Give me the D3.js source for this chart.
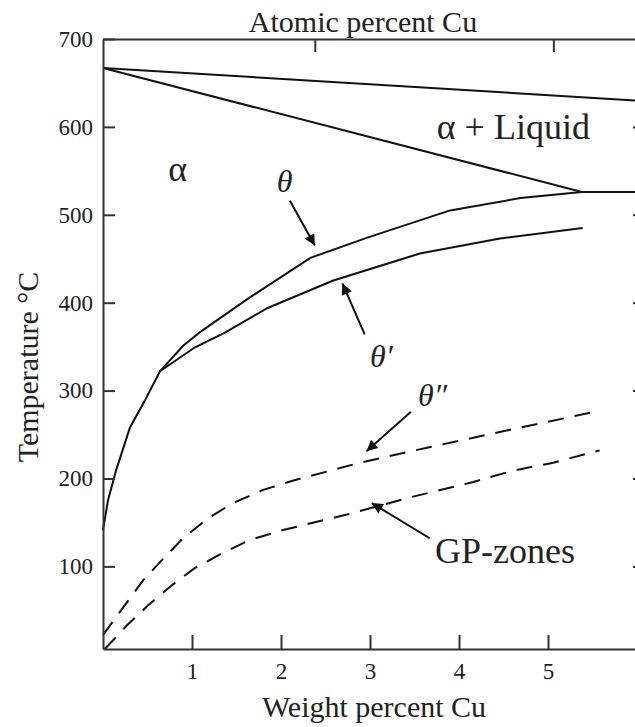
<!DOCTYPE html>
<html>
<head>
<meta charset="utf-8">
<script src="https://cdn.jsdelivr.net/npm/d3@7"></script>
<style>
  body { margin: 0; background: #fff; }
  text { font-family: "Liberation Serif", "Times New Roman", serif; fill: #222; }
</style>
</head>
<body>
<svg id="chart" width="635" height="727"></svg>
<script>
// ---------------- DATA ----------------
const xTicks = [1, 2, 3, 4, 5];
const yTicks = [100, 200, 300, 400, 500, 600, 700];
const atomicTicksWt = [2.38, 5.06]; // 1 and 2 at.% Cu, placed on the wt.% scale

const liquidusWt = [0, 6];
const liquidusT = [667, 630];

const solidusWt = [0, 5.38, 6];
const solidusT = [667, 526, 526];

const thetaWt = [0, 0.056, 0.146, 0.303, 0.472, 0.64, 0.9, 1.11, 1.65, 2.33, 2.97, 3.9, 4.69, 5.38];
const thetaT = [141, 175, 209, 258, 289, 322, 351, 368, 406, 451, 474, 505, 519, 526];

const thetaPrimeWt = [0.64, 1.03, 1.37, 1.85, 2.58, 3.56, 4.46, 5.39];
const thetaPrimeT = [322, 349, 366, 394, 425, 456, 473, 485];

const theta2Wt = [0, 0.225, 0.45, 0.67, 0.9, 1.17, 1.46, 1.8, 2.15, 2.89, 3.64, 4.69, 5.58];
const theta2T = [22, 53, 84, 108, 132, 154, 172, 187, 198, 218, 235, 258, 277];

const gpWt = [0.02, 0.27, 0.51, 0.78, 1.03, 1.34, 1.65, 2.01, 2.74, 3.47, 4.16, 4.61, 5.06, 5.58];
const gpT = [6, 33, 56, 79, 98, 115, 130, 141, 159, 179, 196, 209, 218, 232];

// annotation labels: [text, wt%, T, anchor, size, italic]
const labels = [
  ["α", 0.84, 539, "middle", 36, false],
  ["α + Liquid", 3.75, 586, "start", 36, false],
  ["θ", 2.04, 526, "middle", 32, true],
  ["θ′", 3.0, 327, "start", 32, true],
  ["θ″", 3.54, 282, "start", 32, true],
  ["GP-zones", 3.73, 104, "start", 36, false]
];

// arrows: [tailWt, tailT, tipWt, tipT]
const arrows = [
  [2.10, 516, 2.38, 465],
  [2.94, 364, 2.69, 422],
  [3.46, 276, 2.96, 231],
  [3.67, 132, 3.02, 172]
];

// ---------------- SCALES ----------------
const svg = d3.select("#chart");
const mLeft = 103, mRight = 637, mTop = 39, mBottom = 649;

const x = d3.scaleLinear().domain([0, 6]).range([mLeft, mRight]);
const y = d3.scaleLinear().domain([6, 700]).range([mBottom, mTop]);

// ---------------- CURVES ----------------
const line = d3.line().x(d => x(d[0])).y(d => y(d[1]));
const zip = (a, b) => a.map((v, i) => [v, b[i]]);

const curves = [
  [liquidusWt, liquidusT, null],
  [solidusWt, solidusT, null],
  [thetaWt, thetaT, null],
  [thetaPrimeWt, thetaPrimeT, null],
  [theta2Wt, theta2T, "16,11"],
  [gpWt, gpT, "16,11"]
];

curves.forEach(c => {
  svg.append("path")
    .attr("d", line(zip(c[0], c[1])))
    .attr("fill", "none")
    .attr("stroke", "#111")
    .attr("stroke-width", 2)
    .attr("stroke-dasharray", c[2]);
});

// ---------------- AXES ----------------
function styleAxis(g) {
  g.attr("font-family", "Liberation Serif").attr("font-size", 23);
  g.selectAll("path, line").attr("stroke", "#333").attr("stroke-width", 2);
  g.selectAll("text").attr("fill", "#222");
}

svg.append("g")
  .attr("transform", `translate(${mLeft},0)`)
  .call(d3.axisLeft(y).tickValues(yTicks).tickFormat(d3.format("d")).tickSize(-12).tickPadding(10).tickSizeOuter(0))
  .call(styleAxis);

svg.append("g")
  .attr("transform", `translate(0,${mBottom})`)
  .call(d3.axisBottom(x).tickValues(xTicks).tickFormat(d3.format("d")).tickSize(-14).tickPadding(14).tickSizeOuter(0))
  .call(styleAxis);

svg.append("g")
  .attr("transform", `translate(0,${mTop})`)
  .call(d3.axisTop(x).tickValues(atomicTicksWt).tickSize(-13).tickFormat("").tickSizeOuter(0))
  .call(styleAxis);

svg.append("g")
  .attr("transform", `translate(${mRight},0)`)
  .call(d3.axisRight(y).tickValues(yTicks.slice(0, 6)).tickSize(-4).tickFormat("").tickSizeOuter(0))
  .call(styleAxis);

// ---------------- AXIS TITLES ----------------
svg.append("text")
  .attr("x", 363).attr("y", 32)
  .attr("text-anchor", "middle")
  .style("font-size", "30px")
  .text("Atomic percent Cu");

svg.append("text")
  .attr("x", 374).attr("y", 717)
  .attr("text-anchor", "middle")
  .style("font-size", "30px")
  .text("Weight percent Cu");

svg.append("text")
  .attr("transform", "translate(38,367) rotate(-90)")
  .attr("text-anchor", "middle")
  .style("font-size", "30px")
  .text("Temperature °C");

// ---------------- LABELS ----------------
labels.forEach(l => {
  svg.append("text")
    .attr("x", x(l[1])).attr("y", y(l[2]))
    .attr("text-anchor", l[3])
    .style("font-size", l[4] + "px")
    .style("font-style", l[5] ? "italic" : "normal")
    .text(l[0]);
});

// ---------------- ARROWS ----------------
svg.append("defs").append("marker")
  .attr("id", "head")
  .attr("viewBox", "0 0 10 10")
  .attr("refX", 10).attr("refY", 5)
  .attr("markerWidth", 16).attr("markerHeight", 11)
  .attr("markerUnits", "userSpaceOnUse")
  .attr("orient", "auto")
  .append("path")
  .attr("d", "M0,0 L10,5 L0,10 Z")
  .attr("fill", "#111");

arrows.forEach(a => {
  svg.append("line")
    .attr("x1", x(a[0])).attr("y1", y(a[1]))
    .attr("x2", x(a[2])).attr("y2", y(a[3]))
    .attr("stroke", "#111")
    .attr("stroke-width", 2)
    .attr("marker-end", "url(#head)");
});
</script>
</body>
</html>
